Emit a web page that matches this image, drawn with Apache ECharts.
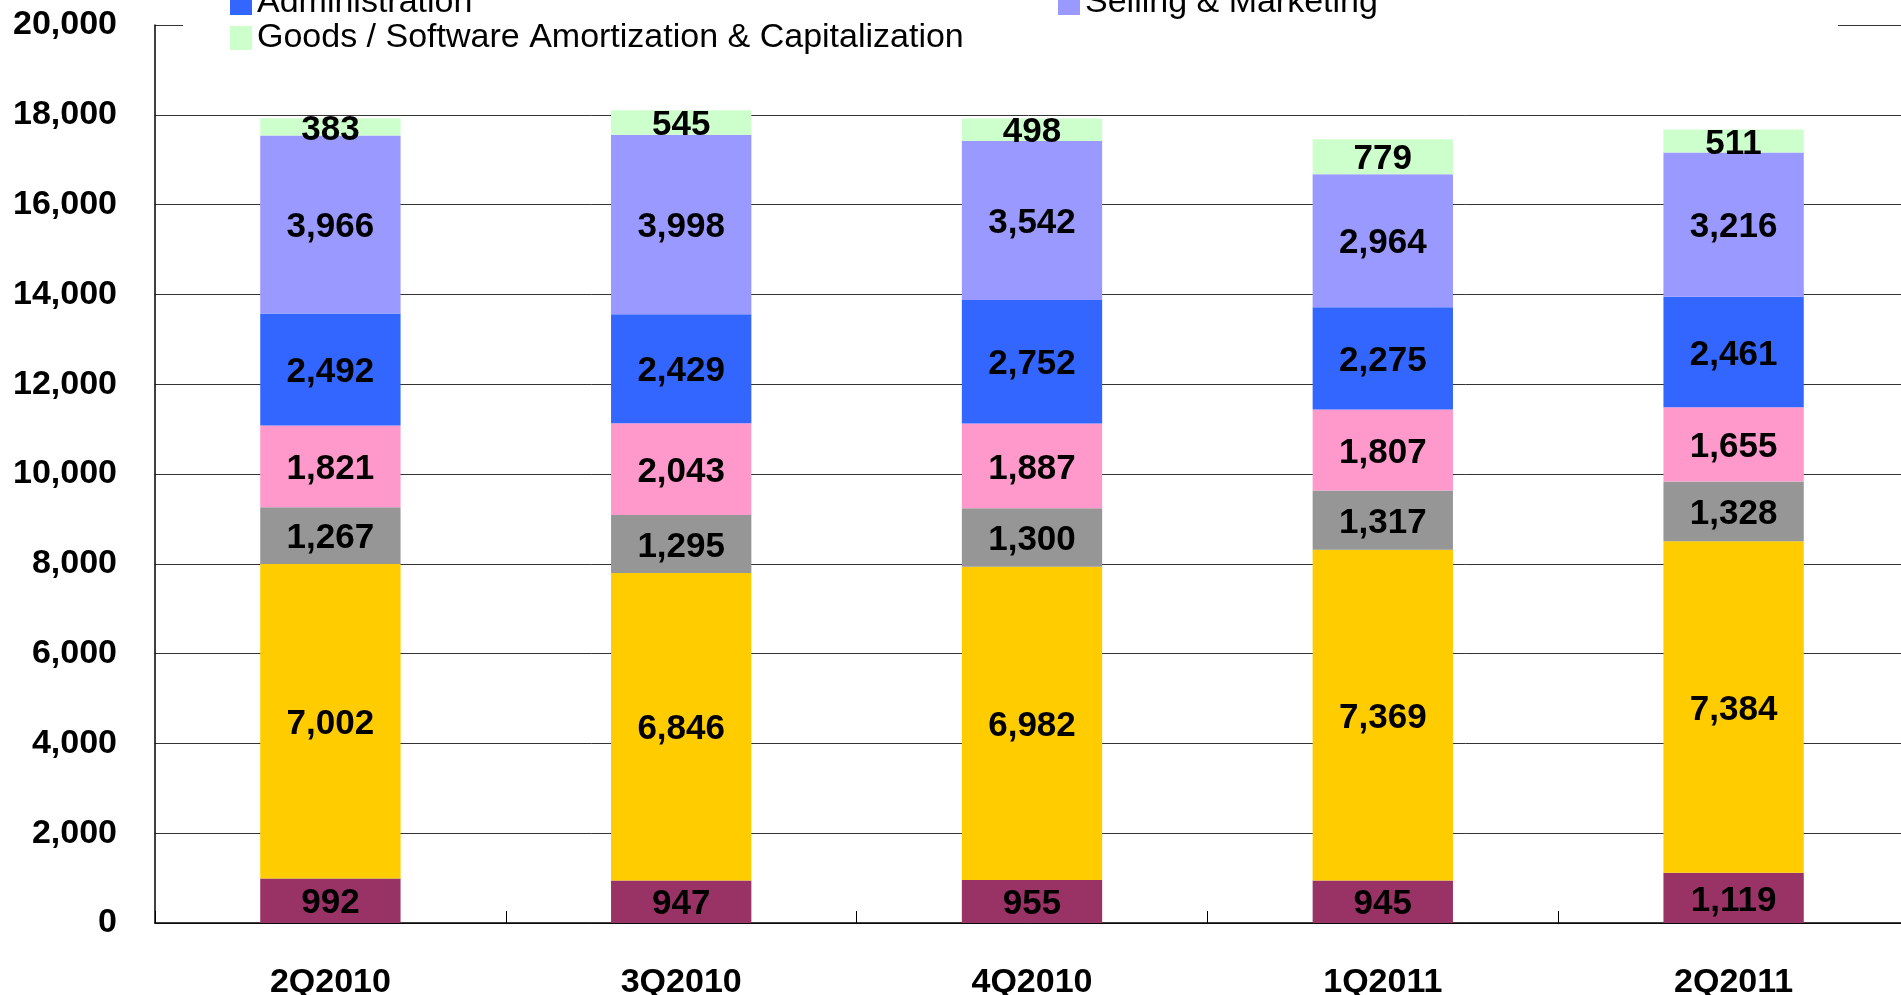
<!DOCTYPE html>
<html>
<head>
<meta charset="utf-8">
<script src="https://cdn.jsdelivr.net/npm/echarts@6/dist/echarts.min.js"></script>
<style>
  html, body { margin: 0; padding: 0; background: #fff; }
  #chart { width: 1901px; height: 995px; }
</style>
</head>
<body>
<div id="chart"></div>
<script>
const QUARTERS = ['2Q2010', '3Q2010', '4Q2010', '1Q2011', '2Q2011'];

const maroonCost = [992, 947, 955, 945, 1119];
const yellowCost = [7002, 6846, 6982, 7369, 7384];
const grayCost = [1267, 1295, 1300, 1317, 1328];
const pinkCost = [1821, 2043, 1887, 1807, 1655];
const administration = [2492, 2429, 2752, 2275, 2461];
const sellingMarketing = [3966, 3998, 3542, 2964, 3216];
const goodsSoftware = [383, 545, 498, 779, 511];

const Y_TICKS = [0, 2000, 4000, 6000, 8000, 10000, 12000, 14000, 16000, 18000, 20000];

const FONT = "'Liberation Sans', Arial, sans-serif";

const SERIES = [
  { name: 'Cost 1', data: maroonCost, color: '#993366' },
  { name: 'Cost 2', data: yellowCost, color: '#FFCC00' },
  { name: 'Cost 3', data: grayCost, color: '#969696' },
  { name: 'Cost 4', data: pinkCost, color: '#FF99CC' },
  { name: 'Administration', data: administration, color: '#3366FF' },
  { name: 'Selling & Marketing', data: sellingMarketing, color: '#9999FF' },
  { name: 'Goods / Software Amortization & Capitalization', data: goodsSoftware, color: '#CCFFCC' }
];

const legendBase = {
  orient: 'vertical',
  top: -19,
  itemWidth: 22,
  itemHeight: 24,
  itemGap: 1,
  icon: 'rect',
  selectedMode: false,
  textStyle: { fontSize: 34, color: '#000', fontFamily: FONT }
};

const chart = echarts.init(document.getElementById('chart'), null, { renderer: 'canvas' });

const option = {
  backgroundColor: '#fff',
  animation: false,
  grid: { left: 155, right: -8, top: 25, bottom: 72, containLabel: false, outerBoundsMode: 'none' },
  legend: [
    Object.assign({}, legendBase, { left: 225, data: ['Administration', 'Goods / Software Amortization & Capitalization'] }),
    Object.assign({}, legendBase, { left: 1053, data: ['Selling & Marketing'] })
  ],
  graphic: [{
    type: 'rect',
    z: 3,
    shape: { x: 183, y: 15, width: 1655, height: 25 },
    style: { fill: '#fff' }
  }],
  xAxis: {
    type: 'category',
    data: QUARTERS,
    axisLine: { lineStyle: { color: '#000', width: 1.5 } },
    axisTick: { show: true, inside: true, length: 12, alignWithLabel: false, lineStyle: { color: '#000' } },
    axisLabel: { margin: 43, fontSize: 34, fontWeight: 'bold', color: '#000', fontFamily: FONT }
  },
  yAxis: {
    type: 'value',
    min: Y_TICKS[0],
    max: Y_TICKS[Y_TICKS.length - 1],
    interval: Y_TICKS[1] - Y_TICKS[0],
    axisLine: { show: true, lineStyle: { color: '#000', width: 1.5 } },
    axisTick: { show: false },
    splitLine: { lineStyle: { color: '#333', width: 1 } },
    axisLabel: {
      margin: 38,
      fontSize: 34,
      fontWeight: 'bold',
      color: '#000',
      fontFamily: FONT,
      formatter: v => v.toLocaleString('en-US')
    }
  },
  series: SERIES.map(s => ({
    name: s.name,
    type: 'bar',
    stack: 'cost',
    barWidth: '40%',
    data: s.data,
    itemStyle: { color: s.color },
    label: {
      show: true,
      position: 'inside',
      offset: [0, 3],
      fontSize: 35,
      fontWeight: 'bold',
      color: '#000',
      fontFamily: FONT,
      formatter: p => p.value.toLocaleString('en-US')
    }
  }))
};

chart.setOption(option);
</script>
</body>
</html>
